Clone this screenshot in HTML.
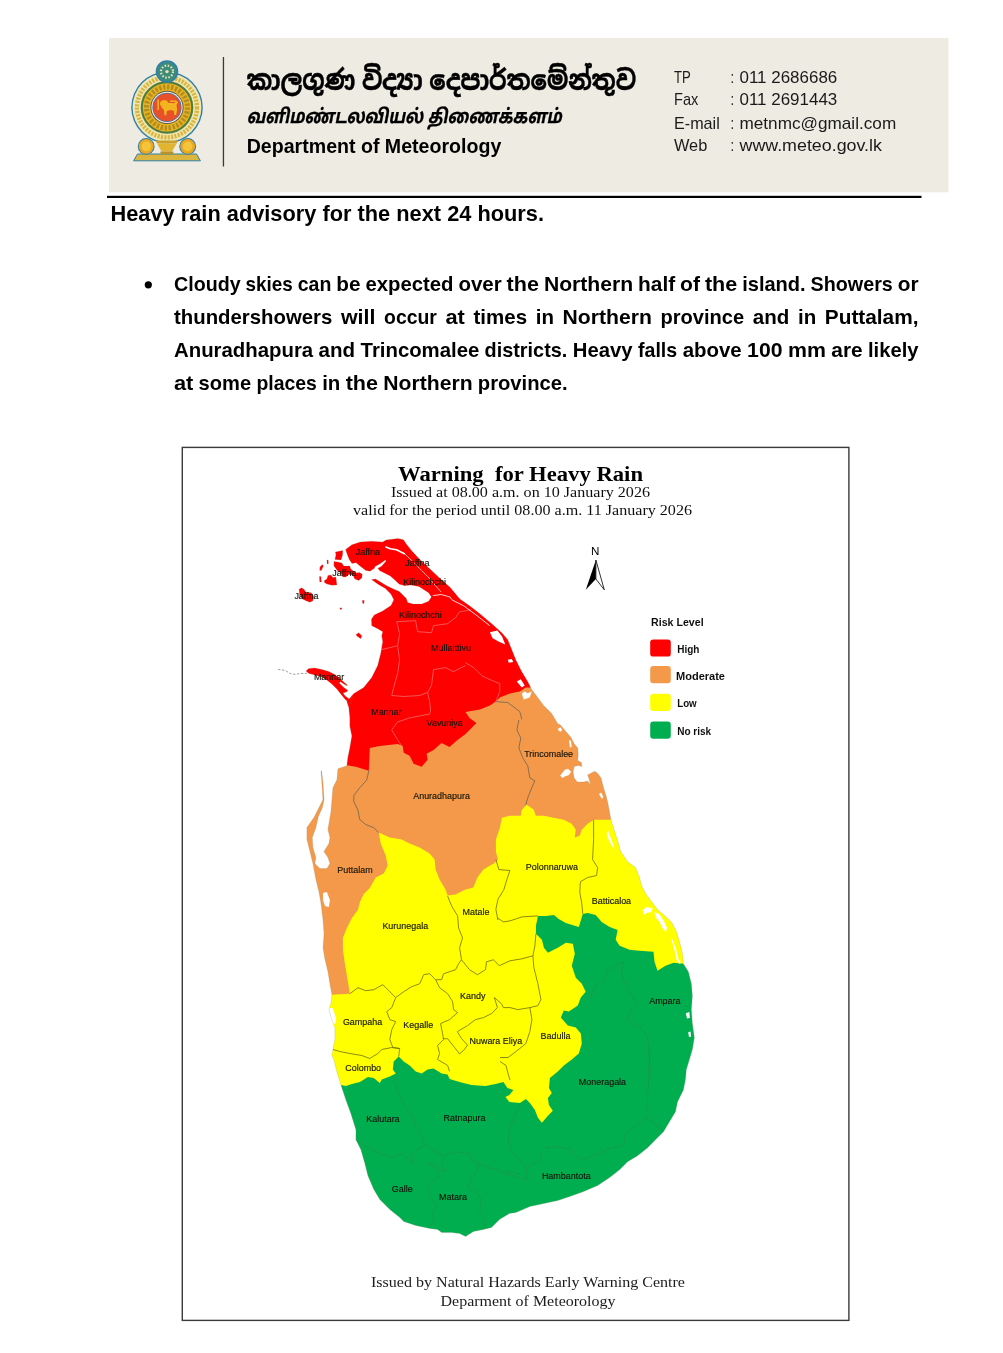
<!DOCTYPE html>
<html lang="en"><head><meta charset="utf-8"><title>Heavy rain advisory</title>
<style>html,body{margin:0;padding:0;background:#fff}svg{display:block}</style></head>
<body><svg width="1003" height="1353" viewBox="0 0 1003 1353">
<rect width="1003" height="1353" fill="#fff"/>
<rect x="109" y="38" width="839.5" height="154.3" fill="#edebe2"/>
<rect x="107" y="195.8" width="814.5" height="2.2" fill="#000"/>
<rect x="222.8" y="57" width="1.3" height="109.5" fill="#3a3a3a"/>
<text x="246.7" y="90.4" font-family="'Liberation Sans', 'Noto Sans Sinhala', 'Noto Serif Sinhala', sans-serif" font-size="27.5" font-weight="bold" fill="#000" textLength="389.5" lengthAdjust="spacingAndGlyphs" stroke="#000" stroke-width="0.45">කාලගුණ විද්‍යා දෙපාර්තමේන්තුව</text>
<text x="246.7" y="123.2" font-family="'Liberation Sans', 'Noto Sans Tamil', 'Noto Serif Tamil', sans-serif" font-size="19.5" font-weight="bold" fill="#000" textLength="315.0" lengthAdjust="spacingAndGlyphs" transform="translate(246.7,123.2) skewX(-11) translate(-246.7,-123.2)" stroke="#000" stroke-width="0.3">வளிமண்டலவியல் திணைக்களம்</text>
<text x="246.7" y="152.6" font-family="'Liberation Sans', sans-serif" font-size="19.5" font-weight="bold" fill="#000" textLength="254.6" lengthAdjust="spacingAndGlyphs" >Department of Meteorology</text>
<text x="674.0" y="82.5" font-family="'Liberation Sans', sans-serif" font-size="16.6" font-weight="normal" fill="#1a1a1a" textLength="16.8" lengthAdjust="spacingAndGlyphs" >TP</text>
<text x="730.6" y="82.5" font-family="'Liberation Sans', sans-serif" font-size="16.6" font-weight="normal" fill="#1a1a1a" textLength="3.6" lengthAdjust="spacingAndGlyphs" >:</text>
<text x="739.5" y="82.5" font-family="'Liberation Sans', sans-serif" font-size="16.6" font-weight="normal" fill="#1a1a1a" textLength="97.8" lengthAdjust="spacingAndGlyphs" >011 2686686</text>
<text x="674.0" y="105.4" font-family="'Liberation Sans', sans-serif" font-size="16.6" font-weight="normal" fill="#1a1a1a" textLength="24.3" lengthAdjust="spacingAndGlyphs" >Fax</text>
<text x="730.6" y="105.4" font-family="'Liberation Sans', sans-serif" font-size="16.6" font-weight="normal" fill="#1a1a1a" textLength="3.6" lengthAdjust="spacingAndGlyphs" >:</text>
<text x="739.5" y="105.4" font-family="'Liberation Sans', sans-serif" font-size="16.6" font-weight="normal" fill="#1a1a1a" textLength="97.8" lengthAdjust="spacingAndGlyphs" >011 2691443</text>
<text x="674.0" y="128.5" font-family="'Liberation Sans', sans-serif" font-size="16.6" font-weight="normal" fill="#1a1a1a" textLength="45.8" lengthAdjust="spacingAndGlyphs" >E-mail</text>
<text x="730.6" y="128.5" font-family="'Liberation Sans', sans-serif" font-size="16.6" font-weight="normal" fill="#1a1a1a" textLength="3.6" lengthAdjust="spacingAndGlyphs" >:</text>
<text x="739.5" y="128.5" font-family="'Liberation Sans', sans-serif" font-size="16.6" font-weight="normal" fill="#1a1a1a" textLength="156.7" lengthAdjust="spacingAndGlyphs" >metnmc@gmail.com</text>
<text x="674.0" y="151.3" font-family="'Liberation Sans', sans-serif" font-size="16.6" font-weight="normal" fill="#1a1a1a" textLength="33.3" lengthAdjust="spacingAndGlyphs" >Web</text>
<text x="730.6" y="151.3" font-family="'Liberation Sans', sans-serif" font-size="16.6" font-weight="normal" fill="#1a1a1a" textLength="3.6" lengthAdjust="spacingAndGlyphs" >:</text>
<text x="739.5" y="151.3" font-family="'Liberation Sans', sans-serif" font-size="16.6" font-weight="normal" fill="#1a1a1a" textLength="142.4" lengthAdjust="spacingAndGlyphs" >www.meteo.gov.lk</text>
<g>
<circle cx="167.0" cy="107.4" r="35.8" fill="#2f7fa8"/>
<circle cx="167.0" cy="107.4" r="34.4" fill="#f1e7b4"/>
<circle cx="167.0" cy="107.4" r="30" fill="none" stroke="#d8b640" stroke-width="4.4" stroke-dasharray="2.2 1.2"/>
<circle cx="167.0" cy="107.4" r="26.3" fill="#4e7d3f"/>
<circle cx="167.0" cy="107.4" r="24.2" fill="#e8b424"/>
<circle cx="167.0" cy="107.4" r="20.5" fill="none" stroke="#8a6d17" stroke-width="5" stroke-dasharray="2.4 1.6" stroke-opacity="0.55"/>
<circle cx="167.0" cy="107.4" r="16.6" fill="#5a5a48"/>
<circle cx="167.0" cy="107.4" r="15.6" fill="#f4f1e8"/>
<circle cx="167.0" cy="107.4" r="14.6" fill="#4a73a8"/>
<circle cx="167.0" cy="107.4" r="13.8" fill="#e8502a"/>
<path d="M160.5,101.5 l3,-1.6 l3.2,0.6 l1.6,2.2 l5.8,0.6 l2.8,-2.4 l1.2,1 l-1.6,3 l0.6,4.6 l-1,5.6 l-1.8,0 l-0.4,-4.4 l-3.4,-0.6 l-3.6,0.8 l-0.6,4.4 l-1.8,0 l-0.6,-5.4 l-2.6,-2.8 l-1.4,-3.2 z" fill="#f3b51f"/>
<rect x="157.4" y="99.5" width="1.5" height="10.5" fill="#f3b51f"/>
<path d="M170,100.4 h6.4 v1.5 h-6.4 z" fill="#f3b51f"/>
<circle cx="167.0" cy="71.6" r="11.3" fill="#2f7fa8"/>
<circle cx="167.0" cy="71.6" r="9.6" fill="#3d8c7b"/>
<circle cx="167.0" cy="71.6" r="6" fill="none" stroke="#e9e2b5" stroke-width="2.2" stroke-dasharray="1.5 1.64"/>
<circle cx="167.0" cy="71.6" r="1.7" fill="#e9e2b5"/>
<path d="M133.6,160.8 L137.5,154 L196.5,154 L200.4,160.8 Z" fill="#dcb53c" stroke="#2f7fa8" stroke-width="1"/>
<circle cx="146.2" cy="146.4" r="8.4" fill="#2f7fa8"/>
<circle cx="146.2" cy="146.4" r="7.4" fill="#e9a820"/>
<circle cx="146.2" cy="146.4" r="4.8" fill="#f4c53a"/>
<circle cx="187.7" cy="146.4" r="8.4" fill="#2f7fa8"/>
<circle cx="187.7" cy="146.4" r="7.4" fill="#e9a820"/>
<circle cx="187.7" cy="146.4" r="4.8" fill="#f4c53a"/>
<path d="M155.5,140.5 h22.6 l-1.6,3 h-19.4 z" fill="#c9a12c"/>
<path d="M157,143.5 h19.6 l-4.6,8 h-10.4 z" fill="#e2b530"/>
<rect x="160.4" y="151.5" width="13" height="2.6" fill="#b8932a"/>
</g>
<text x="110.5" y="221.0" font-family="'Liberation Sans', sans-serif" font-size="22.4" font-weight="bold" fill="#000" textLength="433.5" lengthAdjust="spacingAndGlyphs" >Heavy rain advisory for the next 24 hours.</text>
<circle cx="148.3" cy="284.8" r="3.6" fill="#000"/>
<text y="291.2" font-family="'Liberation Sans', sans-serif" font-size="21" font-weight="bold" fill="#000"><tspan x="174.0" textLength="66.6" lengthAdjust="spacingAndGlyphs">Cloudy</tspan> <tspan x="245.6" textLength="47.2" lengthAdjust="spacingAndGlyphs">skies</tspan> <tspan x="297.7" textLength="33.6" lengthAdjust="spacingAndGlyphs">can</tspan> <tspan x="336.3" textLength="24.2" lengthAdjust="spacingAndGlyphs">be</tspan> <tspan x="365.4" textLength="88.1" lengthAdjust="spacingAndGlyphs">expected</tspan> <tspan x="458.4" textLength="43.3" lengthAdjust="spacingAndGlyphs">over</tspan> <tspan x="506.6" textLength="32.3" lengthAdjust="spacingAndGlyphs">the</tspan> <tspan x="543.9" textLength="89.3" lengthAdjust="spacingAndGlyphs">Northern</tspan> <tspan x="638.1" textLength="37.1" lengthAdjust="spacingAndGlyphs">half</tspan> <tspan x="680.1" textLength="19.9" lengthAdjust="spacingAndGlyphs">of</tspan> <tspan x="704.9" textLength="32.3" lengthAdjust="spacingAndGlyphs">the</tspan> <tspan x="742.2" textLength="63.5" lengthAdjust="spacingAndGlyphs">island.</tspan> <tspan x="810.6" textLength="82.2" lengthAdjust="spacingAndGlyphs">Showers</tspan> <tspan x="897.7" textLength="20.8" lengthAdjust="spacingAndGlyphs">or</tspan></text>
<text y="324.4" font-family="'Liberation Sans', sans-serif" font-size="21" font-weight="bold" fill="#000"><tspan x="174.0" textLength="158.3" lengthAdjust="spacingAndGlyphs">thundershowers</tspan> <tspan x="340.9" textLength="34.5" lengthAdjust="spacingAndGlyphs">will</tspan> <tspan x="384.1" textLength="52.8" lengthAdjust="spacingAndGlyphs">occur</tspan> <tspan x="445.5" textLength="19.4" lengthAdjust="spacingAndGlyphs">at</tspan> <tspan x="473.5" textLength="53.6" lengthAdjust="spacingAndGlyphs">times</tspan> <tspan x="535.8" textLength="18.2" lengthAdjust="spacingAndGlyphs">in</tspan> <tspan x="562.6" textLength="89.3" lengthAdjust="spacingAndGlyphs">Northern</tspan> <tspan x="660.5" textLength="83.7" lengthAdjust="spacingAndGlyphs">province</tspan> <tspan x="752.8" textLength="36.5" lengthAdjust="spacingAndGlyphs">and</tspan> <tspan x="798.0" textLength="18.2" lengthAdjust="spacingAndGlyphs">in</tspan> <tspan x="824.8" textLength="93.7" lengthAdjust="spacingAndGlyphs">Puttalam,</tspan></text>
<text y="357.4" font-family="'Liberation Sans', sans-serif" font-size="21" font-weight="bold" fill="#000"><tspan x="174.0" textLength="139.2" lengthAdjust="spacingAndGlyphs">Anuradhapura</tspan> <tspan x="318.6" textLength="36.5" lengthAdjust="spacingAndGlyphs">and</tspan> <tspan x="360.6" textLength="118.7" lengthAdjust="spacingAndGlyphs">Trincomalee</tspan> <tspan x="484.6" textLength="82.7" lengthAdjust="spacingAndGlyphs">districts.</tspan> <tspan x="572.8" textLength="59.8" lengthAdjust="spacingAndGlyphs">Heavy</tspan> <tspan x="638.0" textLength="39.2" lengthAdjust="spacingAndGlyphs">falls</tspan> <tspan x="682.7" textLength="59.0" lengthAdjust="spacingAndGlyphs">above</tspan> <tspan x="747.1" textLength="35.4" lengthAdjust="spacingAndGlyphs">100</tspan> <tspan x="788.0" textLength="37.9" lengthAdjust="spacingAndGlyphs">mm</tspan> <tspan x="831.3" textLength="31.3" lengthAdjust="spacingAndGlyphs">are</tspan> <tspan x="868.0" textLength="50.5" lengthAdjust="spacingAndGlyphs">likely</tspan></text>
<text y="390.2" font-family="'Liberation Sans', sans-serif" font-size="21" font-weight="bold" fill="#000"><tspan x="174.0" textLength="19.4" lengthAdjust="spacingAndGlyphs">at</tspan> <tspan x="198.6" textLength="52.5" lengthAdjust="spacingAndGlyphs">some</tspan> <tspan x="256.4" textLength="60.5" lengthAdjust="spacingAndGlyphs">places</tspan> <tspan x="322.2" textLength="18.2" lengthAdjust="spacingAndGlyphs">in</tspan> <tspan x="345.7" textLength="32.3" lengthAdjust="spacingAndGlyphs">the</tspan> <tspan x="383.3" textLength="89.3" lengthAdjust="spacingAndGlyphs">Northern</tspan> <tspan x="477.8" textLength="89.9" lengthAdjust="spacingAndGlyphs">province.</tspan></text>
<defs><filter id="soft" x="-2%" y="-2%" width="104%" height="104%"><feGaussianBlur stdDeviation="0.35"/></filter></defs>
<g filter="url(#soft)">
<rect x="182.3" y="447.4" width="666.6" height="873" fill="#fff" stroke="#3a3a3a" stroke-width="1.4"/>
<defs><mask id="landmask" maskUnits="userSpaceOnUse" x="270" y="520" width="450" height="740"><path d="M345.6,549.5 L351.9,544.7 L360.3,541.9 L371.4,541.2 L382.6,541.9 L386.1,540.1 L397.9,538.4 L403.5,539.8 L406.3,544.0 L411.9,550.9 L420.3,560.0 L430.0,569.1 L439.8,578.2 L450.0,587.2 L459.9,598.9 L469.9,605.9 L479.9,613.8 L491.8,623.8 L501.8,632.8 L507.8,639.8 L511.8,649.7 L515.8,659.7 L521.8,671.7 L527.7,681.6 L531.7,689.6 L537.7,697.6 L543.7,705.6 L551.7,713.5 L557.6,723.5 L560.7,725.2 L565.9,731.4 L571.1,737.6 L574.2,743.8 L577.8,748.0 L578.3,754.2 L577.8,760.4 L581.4,762.4 L581.9,766.6 L578.3,765.5 L574.2,766.6 L573.1,771.8 L574.2,778.0 L577.3,782.1 L583.5,782.1 L587.6,781.1 L590.7,784.7 L588.7,778.0 L587.6,774.9 L591.8,772.8 L594.9,771.2 L598.0,773.8 L601.1,778.0 L603.1,786.3 L606.3,796.6 L607.8,802.8 L609.4,811.1 L610.9,819.4 L613.5,827.7 L616.1,835.9 L618.7,844.2 L620.7,851.5 L627.5,861.6 L635.5,867.6 L639.5,877.5 L641.5,885.5 L645.5,893.5 L651.5,901.5 L657.4,909.4 L664.4,915.4 L671.5,921.9 L676.5,931.8 L679.5,941.8 L682.5,953.8 L683.4,963.7 L688.4,971.7 L691.4,983.7 L692.4,995.7 L691.4,1009.6 L692.4,1023.6 L694.4,1037.5 L692.4,1049.5 L689.4,1059.5 L686.4,1069.4 L685.4,1079.9 L683.4,1089.9 L677.5,1101.9 L675.5,1111.8 L669.5,1121.8 L663.5,1131.8 L655.5,1139.8 L647.6,1147.7 L637.6,1155.7 L627.6,1161.7 L619.6,1169.7 L609.7,1177.6 L597.7,1185.6 L583.7,1191.6 L569.8,1196.6 L557.8,1200.6 L543.9,1203.6 L529.9,1206.6 L516.0,1212.5 L509.4,1213.5 L499.5,1219.5 L491.5,1227.5 L483.5,1229.5 L473.5,1231.5 L465.6,1236.5 L459.6,1233.5 L451.6,1232.5 L441.6,1232.5 L437.6,1229.5 L429.7,1228.5 L415.7,1225.5 L403.7,1221.5 L399.8,1217.5 L389.8,1209.6 L379.8,1199.6 L373.8,1189.6 L367.9,1175.7 L364.9,1163.7 L360.9,1149.7 L355.9,1139.8 L355.9,1129.8 L350.9,1113.8 L345.9,1099.9 L340.9,1084.9 L336.9,1072.0 L334.0,1060.0 L331.9,1055.5 L332.9,1049.5 L334.9,1039.5 L334.9,1027.6 L331.9,1019.6 L328.9,1009.6 L330.9,1003.6 L331.9,994.7 L329.9,983.7 L327.9,971.7 L325.0,959.8 L323.0,947.8 L324.0,933.8 L323.0,919.9 L321.0,903.9 L319.0,892.0 L316.0,880.0 L312.9,863.5 L309.9,851.5 L306.9,839.6 L306.9,827.6 L313.9,817.6 L319.9,805.7 L322.9,799.7 L321.9,783.7 L320.9,770.8 L321.7,771.0 L323.1,783.7 L324.1,799.7 L322.3,807.7 L318.3,816.7 L315.9,827.6 L312.3,837.6 L312.9,847.6 L315.9,857.5 L314.9,863.5 L319.9,868.5 L326.9,868.5 L329.9,863.5 L327.9,857.5 L323.9,851.5 L328.9,843.6 L329.9,837.6 L327.9,829.6 L328.9,823.6 L330.9,811.7 L331.9,799.7 L332.9,787.7 L336.9,779.8 L337.9,768.8 L346.8,765.8 L347.8,757.8 L349.8,747.9 L351.8,735.9 L349.8,725.9 L349.8,717.4 L348.8,707.5 L346.8,701.5 L353.8,693.5 L363.7,687.5 L371.7,677.6 L377.7,665.6 L380.7,653.6 L382.7,641.7 L381.7,635.7 L382.7,631.7 L377.7,628.7 L371.7,625.7 L371.4,619.3 L374.2,615.1 L382.6,611.0 L391.0,605.4 L393.8,599.8 L391.0,594.2 L385.4,588.6 L378.4,584.4 L371.4,579.6 L375.6,578.9 L379.8,581.6 L386.8,585.8 L392.4,588.6 L399.3,591.4 L406.3,598.4 L407.7,602.6 L413.3,604.0 L421.7,604.0 L428.6,601.2 L431.4,597.0 L428.6,592.8 L418.9,586.5 L410.5,585.1 L404.9,585.8 L399.3,584.2 L395.1,580.3 L390.3,576.1 L385.4,573.6 L379.8,570.8 L377.8,568.2 L381.2,566.6 L386.2,561.0 L385.4,559.9 L379.8,564.1 L375.0,566.6 L374.5,568.2 L370.0,571.2 L365.8,570.5 L360.3,566.3 L356.1,562.8 L351.9,563.5 L349.1,559.3 L347.0,553.7Z M335.4,551.9 L342.8,550.5 L342.6,554.9 L341.0,559.9 L334.9,559.4 L335.9,554.9Z M333.9,561.4 L337.9,561.9 L341.8,562.9 L343.8,565.9 L349.8,565.9 L350.8,568.9 L355.8,572.9 L359.8,572.4 L362.3,574.4 L361.8,577.9 L358.8,580.4 L354.8,578.9 L352.8,574.9 L348.8,574.4 L345.8,576.9 L342.8,576.9 L340.8,572.9 L336.9,569.9 L333.9,565.9Z M324.4,580.4 L326.9,578.9 L327.9,575.4 L330.9,574.9 L332.9,577.4 L335.9,576.9 L336.9,584.9 L331.9,585.3 L326.9,583.9 L324.4,582.4Z M319.4,576.4 L320.9,576.4 L321.4,581.9 L319.7,581.9Z M319.9,566.9 L322.4,564.4 L323.4,565.9 L321.4,570.4 L319.7,570.4Z M326.9,560.1 L328.2,559.9 L328.4,563.7 L327.1,563.9Z M299.0,589.3 L301.5,587.8 L304.0,589.3 L306.0,592.3 L311.4,592.8 L313.4,596.8 L312.9,600.8 L309.9,602.3 L306.0,600.8 L302.0,598.8 L299.5,593.8Z M362.3,600.3 L364.3,600.6 L364.0,603.8 L362.6,603.3Z M339.9,607.8 L341.8,608.0 L341.6,609.4 L340.0,609.3Z M355.8,634.7 L358.8,632.7 L361.8,635.7 L360.8,638.7 L357.8,636.7Z M306.4,670.4 L308.9,668.4 L314.9,667.9 L321.9,669.4 L328.8,671.4 L334.8,674.4 L339.8,678.4 L347.3,684.9 L346.8,685.7 L340.3,681.7 L339.3,682.9 L343.8,687.4 L347.8,690.2 L346.6,691.9 L343.0,692.9 L345.3,696.1 L349.3,699.1 L352.3,696.9 L350.8,703.8 L349.3,703.3 L344.8,698.9 L340.8,693.9 L336.8,688.9 L331.8,683.9 L326.8,679.9 L321.9,676.9 L314.9,674.9 L308.9,673.4 L306.4,671.4Z" fill="#fff"/></mask></defs>
<g mask="url(#landmask)">
<rect x="280" y="520" width="430" height="740" fill="#06ae50"/>
<path d="M683.4,963.7 L673.5,962.8 L665.5,965.7 L657.5,970.7 L654.5,961.8 L653.5,951.8 L639.6,950.8 L629.6,949.8 L619.6,945.8 L615.7,939.8 L617.6,929.9 L609.7,926.9 L601.7,921.9 L595.7,914.9 L587.7,912.9 L582.8,913.9 L578.8,926.9 L565.8,922.9 L558.8,918.9 L553.8,914.9 L545.9,915.9 L537.9,915.9 L535.9,925.9 L535.9,933.8 L541.9,939.8 L543.9,947.8 L547.9,952.8 L557.8,947.8 L565.8,942.8 L572.8,943.8 L574.8,953.8 L571.8,965.7 L575.8,977.7 L581.8,983.7 L585.7,991.7 L580.8,997.6 L577.8,1005.6 L568.8,1011.6 L563.8,1010.6 L560.8,1017.6 L567.8,1025.6 L575.8,1027.6 L580.8,1033.5 L581.8,1043.5 L578.8,1053.5 L571.8,1059.5 L563.8,1065.4 L557.8,1071.4 L549.9,1077.9 L548.9,1087.9 L551.8,1092.9 L547.9,1097.9 L548.9,1104.9 L552.8,1110.8 L547.9,1115.8 L541.9,1122.8 L537.9,1117.8 L534.9,1109.9 L529.9,1102.9 L525.9,1098.9 L519.9,1102.9 L509.4,1101.9 L505.4,1096.9 L509.4,1094.9 L513.4,1089.9 L507.4,1087.9 L503.4,1081.9 L495.5,1083.9 L485.5,1085.9 L471.5,1084.9 L459.6,1081.9 L449.6,1078.9 L447.6,1074.4 L441.6,1073.4 L433.6,1068.4 L427.6,1069.4 L421.7,1073.4 L415.7,1071.4 L409.7,1065.4 L403.7,1061.5 L398.7,1056.5 L393.7,1061.5 L392.8,1069.4 L395.7,1073.4 L389.8,1076.4 L381.8,1079.4 L379.8,1082.9 L373.8,1077.9 L367.9,1076.9 L359.9,1081.9 L351.9,1083.9 L345.9,1085.9 L340.9,1084.9 L280.0,1086.0 L280.0,700.0 L720.0,700.0 L720.0,964.0Z" fill="#ffff00" />
<path d="M331.9,994.7 L349.9,993.7 L348.9,987.7 L346.9,975.7 L344.9,963.7 L342.9,949.8 L342.9,937.8 L346.9,927.9 L351.9,917.9 L357.9,909.9 L359.9,901.9 L363.8,894.0 L369.8,888.0 L375.7,877.5 L383.7,873.5 L387.7,865.5 L385.7,855.5 L380.7,843.6 L378.7,832.6 L389.7,837.6 L401.7,839.6 L409.6,843.6 L419.6,847.6 L429.6,853.5 L434.6,859.5 L435.6,869.5 L439.6,879.5 L445.5,889.4 L447.5,895.4 L455.5,894.4 L465.5,889.4 L473.4,887.4 L477.4,877.5 L483.4,869.5 L490.0,865.5 L493.9,863.6 L497.9,859.6 L495.9,851.6 L495.9,839.6 L499.9,827.7 L501.9,817.7 L509.9,815.7 L520.8,815.7 L521.8,809.7 L526.8,804.7 L533.8,809.7 L535.8,815.7 L543.8,815.7 L553.7,817.7 L563.7,819.7 L571.7,823.7 L575.7,829.7 L574.7,837.6 L579.7,835.7 L581.7,829.7 L587.6,823.7 L593.6,819.7 L609.6,819.7 L720.0,820.0 L720.0,600.0 L280.0,600.0 L280.0,995.0Z" fill="#f4994a" />
<path d="M346.8,765.2 L355.8,766.8 L368.8,770.8 L369.8,747.9 L379.7,745.9 L397.7,743.9 L402.7,745.9 L403.7,752.8 L409.6,755.8 L413.6,763.8 L421.6,766.8 L427.6,759.8 L426.6,753.8 L433.6,749.9 L441.5,742.9 L449.5,746.9 L457.5,739.9 L465.5,733.9 L471.5,727.9 L476.4,722.9 L469.5,717.9 L465.5,712.0 L479.9,709.6 L489.9,705.6 L495.8,701.6 L499.8,697.6 L509.8,693.6 L519.8,691.6 L525.7,687.6 L720.0,688.0 L720.0,500.0 L270.0,500.0 L270.0,765.0Z" fill="#ff0000" />
<path d="M393.8,1079.9 L399.8,1095.9 L407.7,1109.9 L413.7,1119.8 L417.7,1129.8 L425.7,1143.7 L429.7,1147.7" fill="none" stroke="#0b9846" stroke-width="0.8" stroke-linejoin="round" />
<path d="M355.9,1139.8 L367.9,1147.7 L379.8,1153.7 L393.8,1157.7 L401.8,1153.7 L409.7,1159.7 L413.7,1163.7 L411.7,1153.7 L419.7,1147.7 L425.7,1144.7" fill="none" stroke="#0b9846" stroke-width="0.8" stroke-linejoin="round" />
<path d="M427.7,1163.7 L435.7,1167.7 L439.6,1175.7 L431.7,1181.6 L427.7,1189.6 L431.7,1199.6 L437.6,1205.6 L431.7,1211.5 L433.7,1219.5 L429.7,1227.5" fill="none" stroke="#0b9846" stroke-width="0.8" stroke-linejoin="round" />
<path d="M429.7,1147.7 L443.6,1155.7 L455.6,1151.7 L469.6,1153.7 L471.5,1159.7 L479.5,1163.7 L477.5,1171.7 L471.5,1179.6 L467.6,1187.6 L475.5,1191.6 L481.5,1199.6 L479.5,1211.5 L485.5,1219.5 L483.5,1229.5" fill="none" stroke="#0b9846" stroke-width="0.8" stroke-linejoin="round" />
<path d="M443.6,1155.7 L441.6,1163.7 L445.6,1171.7 L437.6,1167.7 L431.7,1162.7 L427.7,1163.7" fill="none" stroke="#0b9846" stroke-width="0.8" stroke-linejoin="round" />
<path d="M479.5,1163.7 L489.5,1167.7 L503.4,1171.7 L520.0,1173.7" fill="none" stroke="#0b9846" stroke-width="0.8" stroke-linejoin="round" />
<path d="M649.6,1048.0 L648.6,1079.9 L647.6,1099.9 L646.6,1117.8 L657.5,1125.8 L663.5,1130.8" fill="none" stroke="#0b9846" stroke-width="0.8" stroke-linejoin="round" />
<path d="M646.6,1117.8 L635.6,1125.8 L625.6,1133.8 L623.6,1145.7 L613.7,1147.7 L607.7,1148.7 L599.7,1153.7 L587.7,1157.7 L581.8,1160.7 L575.8,1155.7 L569.8,1148.7 L561.8,1147.7 L553.8,1146.7 L545.9,1147.7 L539.9,1153.7 L541.9,1159.7 L533.9,1163.7 L525.9,1168.7 L527.9,1179.6 L519.9,1177.6 L510.0,1174.7 L500.0,1173.7" fill="none" stroke="#0b9846" stroke-width="0.8" stroke-linejoin="round" />
<path d="M519.9,1102.9 L516.0,1113.8 L510.0,1127.8 L508.0,1139.8 L512.0,1151.7 L519.9,1159.7 L525.9,1168.7" fill="none" stroke="#0b9846" stroke-width="0.8" stroke-linejoin="round" />
<path d="M623.6,961.8 L617.6,963.7 L607.7,971.7 L603.7,979.7 L595.7,985.7 L589.7,999.6" fill="none" stroke="#0b9846" stroke-width="0.8" stroke-linejoin="round" />
<path d="M623.6,961.8 L621.6,973.7 L625.6,985.7 L631.6,995.7 L637.6,1003.6 L629.6,1011.6 L627.6,1019.6 L639.6,1027.6 L647.6,1035.5 L648.6,1049.5 L649.6,1063.4 L651.5,1080.0" fill="none" stroke="#0b9846" stroke-width="0.8" stroke-linejoin="round" />
<path d="M593.6,819.7 L593.6,839.6 L592.6,859.6 L597.6,867.6 L596.6,875.5 L587.6,877.5 L580.7,881.5 L580.2,884.0 L579.8,892.0 L581.8,903.9 L582.8,913.9" fill="none" stroke="#6e6e10" stroke-width="0.8" stroke-linejoin="round" />
<path d="M495.9,859.6 L498.9,869.6 L509.9,870.5 L506.9,879.5 L503.9,889.5 L497.9,899.5 L495.9,909.4 L497.9,920.0" fill="none" stroke="#6e6e10" stroke-width="0.8" stroke-linejoin="round" />
<path d="M447.6,896.0 L451.6,905.9 L457.6,915.9 L458.6,927.9 L462.5,937.8 L459.6,947.8 L461.5,959.8 L458.6,963.7 L455.6,969.7 L449.6,971.7 L443.6,973.7 L441.6,979.7 L435.6,979.7" fill="none" stroke="#6e6e10" stroke-width="0.8" stroke-linejoin="round" />
<path d="M349.9,993.7 L357.9,987.7 L365.8,990.7 L373.8,989.7 L382.8,984.7 L388.8,990.7 L395.7,997.6 L403.7,991.7 L411.7,986.7 L419.7,983.7 L423.7,974.7 L429.6,973.7 L435.6,979.7" fill="none" stroke="#6e6e10" stroke-width="0.8" stroke-linejoin="round" />
<path d="M395.7,997.6 L391.8,1007.6 L386.8,1011.6 L389.8,1019.6 L395.7,1021.6 L391.8,1029.6 L389.8,1039.5 L392.8,1047.5 L399.7,1048.5" fill="none" stroke="#6e6e10" stroke-width="0.8" stroke-linejoin="round" />
<path d="M332.9,1049.5 L339.9,1051.5 L349.9,1053.5 L361.8,1055.5 L369.8,1058.5 L377.8,1053.5 L381.8,1049.5 L391.8,1047.5 L399.7,1048.5 L398.7,1056.5" fill="none" stroke="#6e6e10" stroke-width="0.8" stroke-linejoin="round" />
<path d="M435.6,979.7 L439.6,987.7 L447.6,993.7 L452.6,1001.6 L453.6,1009.6 L457.6,1012.6 L449.6,1019.6 L440.6,1023.6 L442.6,1033.5 L443.6,1039.5 L437.6,1045.5 L439.6,1053.5 L437.6,1059.5 L447.6,1065.4 L449.6,1071.4" fill="none" stroke="#6e6e10" stroke-width="0.8" stroke-linejoin="round" />
<path d="M461.5,959.8 L469.5,969.7 L477.5,974.7 L485.5,969.7 L486.5,961.8 L493.4,959.8 L499.4,965.7 L510.0,960.8" fill="none" stroke="#6e6e10" stroke-width="0.8" stroke-linejoin="round" />
<path d="M457.6,1031.5 L467.5,1025.6 L475.5,1019.6 L483.5,1017.6 L491.5,1013.6 L497.4,1007.6 L494.4,997.6 L501.4,1003.6 L503.4,1007.6 L510.0,1007.6" fill="none" stroke="#6e6e10" stroke-width="0.8" stroke-linejoin="round" />
<path d="M457.2,1031.5 L461.5,1038.5 L467.5,1045.1 L464.5,1049.5 L459.6,1053.9 L454.6,1047.5 L447.6,1038.7 L442.8,1038.7" fill="none" stroke="#6e6e10" stroke-width="0.8" stroke-linejoin="round" />
<path d="M497.4,917.9 L503.4,921.9 L510.0,920.9" fill="none" stroke="#6e6e10" stroke-width="0.8" stroke-linejoin="round" />
<path d="M510.0,920.9 L521.9,916.9 L537.9,915.9" fill="none" stroke="#6e6e10" stroke-width="0.8" stroke-linejoin="round" />
<path d="M535.9,933.8 L534.9,945.8 L532.9,955.8 L533.9,967.7 L537.9,983.7 L540.9,999.6 L537.9,1005.6 L529.9,1007.6 L517.9,1009.6 L510.0,1007.6" fill="none" stroke="#6e6e10" stroke-width="0.8" stroke-linejoin="round" />
<path d="M532.9,955.8 L521.9,958.8 L510.0,960.8" fill="none" stroke="#6e6e10" stroke-width="0.8" stroke-linejoin="round" />
<path d="M529.9,1007.6 L531.9,1019.6 L529.9,1031.5 L525.9,1043.5 L516.0,1051.5 L508.0,1057.5 L500.0,1057.5" fill="none" stroke="#6e6e10" stroke-width="0.8" stroke-linejoin="round" />
<path d="M500.0,1061.5 L506.0,1065.4 L508.0,1073.4 L510.0,1080.0" fill="none" stroke="#6e6e10" stroke-width="0.8" stroke-linejoin="round" />
<path d="M495.8,701.6 L507.8,702.6 L519.8,711.5 L521.8,719.5" fill="none" stroke="#7a6a55" stroke-width="0.9" stroke-linejoin="round" />
<path d="M518.9,720.0 L516.9,730.0 L520.8,737.9 L518.9,747.9 L522.8,757.9 L527.8,765.9 L529.8,777.8 L534.8,780.8 L531.8,787.8 L527.8,797.8 L525.8,804.7" fill="none" stroke="#7a6a55" stroke-width="0.9" stroke-linejoin="round" />
<path d="M368.8,770.8 L366.8,779.8 L359.8,787.7 L353.8,795.7 L353.8,801.7 L357.8,809.7 L359.8,819.6 L365.8,824.6 L373.7,827.6 L378.7,832.6" fill="none" stroke="#7a6a55" stroke-width="0.9" stroke-linejoin="round" />
<path d="M396.7,621.7 L415.6,620.7 L417.6,631.7 L431.5,632.7 L433.5,625.7 L447.5,623.7 L455.5,617.7 L459.5,611.8 L471.4,609.8" fill="none" stroke="#f06a6a" stroke-width="0.8" stroke-linejoin="round" />
<path d="M396.7,621.7 L399.6,633.7 L397.6,645.7 L381.7,649.6" fill="none" stroke="#f06a6a" stroke-width="0.8" stroke-linejoin="round" />
<path d="M397.6,645.7 L399.6,659.6 L397.6,673.6 L393.7,687.5 L391.7,695.5 L403.6,696.5 L419.6,695.5 L427.6,692.5 L431.5,685.5 L433.5,669.6 L445.5,667.6 L453.5,671.6 L465.4,665.6" fill="none" stroke="#f06a6a" stroke-width="0.8" stroke-linejoin="round" />
<path d="M427.6,692.5 L429.6,701.5 L430.6,710.0 L429.6,714.0 L409.6,717.9 L397.7,721.9 L391.7,729.9 L397.7,739.9 L401.7,745.9" fill="none" stroke="#f06a6a" stroke-width="0.8" stroke-linejoin="round" />
<path d="M465.5,662.7 L473.9,667.7 L481.9,675.7 L489.9,679.6 L499.8,683.6 L499.8,691.6 L495.8,701.6" fill="none" stroke="#f06a6a" stroke-width="0.8" stroke-linejoin="round" />
</g>
<path d="M489.9,632.2 L497.4,630.6 L502.2,636.8 L505.2,644.5 L499.0,641.8 L492.6,638.2Z" fill="#fff" />
<path d="M507.8,659.7 L511.8,659.1 L513.2,662.1 L508.8,662.7Z" fill="#fff" />
<path d="M516.8,681.6 L520.8,679.2 L524.7,685.6 L521.8,687.6Z" fill="#fff" />
<path d="M521.8,693.6 L524.7,691.6 L527.7,693.2 L531.7,691.6 L529.7,697.6 L523.7,699.6Z" fill="#fff" />
<path d="M557.6,729.3 L560.2,727.2 L562.3,729.8 L560.2,731.9Z" fill="#fff" />
<path d="M569.0,740.2 L571.1,740.7 L571.6,746.9 L570.0,747.4Z" fill="#fff" />
<path d="M560.2,775.4 L564.8,769.7 L568.0,768.7 L571.1,771.8 L569.0,774.9 L564.8,776.4 L562.3,778.0Z" fill="#fff" />
<path d="M599.0,794.0 L601.1,792.5 L603.1,796.6 L602.1,799.2Z" fill="#fff" />
<path d="M606.8,832.3 L608.3,830.8 L609.9,835.9 L612.5,842.2 L614.0,847.3 L612.5,847.3 L609.4,841.1 L607.3,837.0Z" fill="#fff" />
<path d="M642.6,909.9 L646.6,906.9 L652.5,908.3 L651.5,911.9 L646.6,912.9 L644.0,914.9Z" fill="#fff" />
<path d="M654.5,911.9 L659.5,914.3 L663.9,920.9 L667.1,927.9 L665.5,932.2 L662.5,927.9 L659.5,921.9 L655.5,916.9Z" fill="#fff" />
<path d="M671.5,939.8 L672.7,939.6 L676.3,949.8 L678.3,958.8 L680.7,963.0 L679.5,963.7 L676.3,959.4 L674.3,949.8Z" fill="#fff" />
<path d="M685.8,1013.2 L689.4,1012.0 L689.8,1018.0 L687.0,1018.4Z" fill="#fff" />
<path d="M688.2,1032.3 L690.6,1031.5 L691.0,1036.7 L689.0,1037.1Z" fill="#fff" />
<path d="M323.0,893.0 L326.9,892.0 L329.9,899.9 L328.9,906.9 L325.0,905.9 L323.0,899.9Z" fill="#fff" />
<path d="M328.9,1007.6 L332.9,1008.6 L335.9,1017.6 L335.5,1023.6 L332.3,1024.0 L329.9,1017.6Z" fill="#fff" />
<path d="M345.6,549.5 L351.9,544.7 L360.3,541.9 L371.4,541.2 L382.6,541.9 L386.1,540.1 L397.9,538.4 L403.5,539.8 L406.3,544.0 L411.9,550.9 L420.3,560.0 L430.0,569.1 L439.8,578.2 L450.0,587.2 L459.9,598.9 L469.9,605.9 L479.9,613.8 L491.8,623.8 L501.8,632.8 L507.8,639.8 L511.8,649.7 L515.8,659.7 L521.8,671.7 L527.7,681.6 L531.7,689.6 L537.7,697.6 L543.7,705.6 L551.7,713.5 L557.6,723.5 L560.7,725.2 L565.9,731.4 L571.1,737.6 L574.2,743.8 L577.8,748.0 L578.3,754.2 L577.8,760.4 L581.4,762.4 L581.9,766.6 L578.3,765.5 L574.2,766.6 L573.1,771.8 L574.2,778.0 L577.3,782.1 L583.5,782.1 L587.6,781.1 L590.7,784.7 L588.7,778.0 L587.6,774.9 L591.8,772.8 L594.9,771.2 L598.0,773.8 L601.1,778.0 L603.1,786.3 L606.3,796.6 L607.8,802.8 L609.4,811.1 L610.9,819.4 L613.5,827.7 L616.1,835.9 L618.7,844.2 L620.7,851.5 L627.5,861.6 L635.5,867.6 L639.5,877.5 L641.5,885.5 L645.5,893.5 L651.5,901.5 L657.4,909.4 L664.4,915.4 L671.5,921.9 L676.5,931.8 L679.5,941.8 L682.5,953.8 L683.4,963.7 L688.4,971.7 L691.4,983.7 L692.4,995.7 L691.4,1009.6 L692.4,1023.6 L694.4,1037.5 L692.4,1049.5 L689.4,1059.5 L686.4,1069.4 L685.4,1079.9 L683.4,1089.9 L677.5,1101.9 L675.5,1111.8 L669.5,1121.8 L663.5,1131.8 L655.5,1139.8 L647.6,1147.7 L637.6,1155.7 L627.6,1161.7 L619.6,1169.7 L609.7,1177.6 L597.7,1185.6 L583.7,1191.6 L569.8,1196.6 L557.8,1200.6 L543.9,1203.6 L529.9,1206.6 L516.0,1212.5 L509.4,1213.5 L499.5,1219.5 L491.5,1227.5 L483.5,1229.5 L473.5,1231.5 L465.6,1236.5 L459.6,1233.5 L451.6,1232.5 L441.6,1232.5 L437.6,1229.5 L429.7,1228.5 L415.7,1225.5 L403.7,1221.5 L399.8,1217.5 L389.8,1209.6 L379.8,1199.6 L373.8,1189.6 L367.9,1175.7 L364.9,1163.7 L360.9,1149.7 L355.9,1139.8 L355.9,1129.8 L350.9,1113.8 L345.9,1099.9 L340.9,1084.9 L336.9,1072.0 L334.0,1060.0 L331.9,1055.5 L332.9,1049.5 L334.9,1039.5 L334.9,1027.6 L331.9,1019.6 L328.9,1009.6 L330.9,1003.6 L331.9,994.7 L329.9,983.7 L327.9,971.7 L325.0,959.8 L323.0,947.8 L324.0,933.8 L323.0,919.9 L321.0,903.9 L319.0,892.0 L316.0,880.0 L312.9,863.5 L309.9,851.5 L306.9,839.6 L306.9,827.6 L313.9,817.6 L319.9,805.7 L322.9,799.7 L321.9,783.7 L320.9,770.8 L321.7,771.0 L323.1,783.7 L324.1,799.7 L322.3,807.7 L318.3,816.7 L315.9,827.6 L312.3,837.6 L312.9,847.6 L315.9,857.5 L314.9,863.5 L319.9,868.5 L326.9,868.5 L329.9,863.5 L327.9,857.5 L323.9,851.5 L328.9,843.6 L329.9,837.6 L327.9,829.6 L328.9,823.6 L330.9,811.7 L331.9,799.7 L332.9,787.7 L336.9,779.8 L337.9,768.8 L346.8,765.8 L347.8,757.8 L349.8,747.9 L351.8,735.9 L349.8,725.9 L349.8,717.4 L348.8,707.5 L346.8,701.5 L353.8,693.5 L363.7,687.5 L371.7,677.6 L377.7,665.6 L380.7,653.6 L382.7,641.7 L381.7,635.7 L382.7,631.7 L377.7,628.7 L371.7,625.7 L371.4,619.3 L374.2,615.1 L382.6,611.0 L391.0,605.4 L393.8,599.8 L391.0,594.2 L385.4,588.6 L378.4,584.4 L371.4,579.6 L375.6,578.9 L379.8,581.6 L386.8,585.8 L392.4,588.6 L399.3,591.4 L406.3,598.4 L407.7,602.6 L413.3,604.0 L421.7,604.0 L428.6,601.2 L431.4,597.0 L428.6,592.8 L418.9,586.5 L410.5,585.1 L404.9,585.8 L399.3,584.2 L395.1,580.3 L390.3,576.1 L385.4,573.6 L379.8,570.8 L377.8,568.2 L381.2,566.6 L386.2,561.0 L385.4,559.9 L379.8,564.1 L375.0,566.6 L374.5,568.2 L370.0,571.2 L365.8,570.5 L360.3,566.3 L356.1,562.8 L351.9,563.5 L349.1,559.3 L347.0,553.7Z M335.4,551.9 L342.8,550.5 L342.6,554.9 L341.0,559.9 L334.9,559.4 L335.9,554.9Z M333.9,561.4 L337.9,561.9 L341.8,562.9 L343.8,565.9 L349.8,565.9 L350.8,568.9 L355.8,572.9 L359.8,572.4 L362.3,574.4 L361.8,577.9 L358.8,580.4 L354.8,578.9 L352.8,574.9 L348.8,574.4 L345.8,576.9 L342.8,576.9 L340.8,572.9 L336.9,569.9 L333.9,565.9Z M324.4,580.4 L326.9,578.9 L327.9,575.4 L330.9,574.9 L332.9,577.4 L335.9,576.9 L336.9,584.9 L331.9,585.3 L326.9,583.9 L324.4,582.4Z M319.4,576.4 L320.9,576.4 L321.4,581.9 L319.7,581.9Z M319.9,566.9 L322.4,564.4 L323.4,565.9 L321.4,570.4 L319.7,570.4Z M326.9,560.1 L328.2,559.9 L328.4,563.7 L327.1,563.9Z M299.0,589.3 L301.5,587.8 L304.0,589.3 L306.0,592.3 L311.4,592.8 L313.4,596.8 L312.9,600.8 L309.9,602.3 L306.0,600.8 L302.0,598.8 L299.5,593.8Z M362.3,600.3 L364.3,600.6 L364.0,603.8 L362.6,603.3Z M339.9,607.8 L341.8,608.0 L341.6,609.4 L340.0,609.3Z M355.8,634.7 L358.8,632.7 L361.8,635.7 L360.8,638.7 L357.8,636.7Z M306.4,670.4 L308.9,668.4 L314.9,667.9 L321.9,669.4 L328.8,671.4 L334.8,674.4 L339.8,678.4 L347.3,684.9 L346.8,685.7 L340.3,681.7 L339.3,682.9 L343.8,687.4 L347.8,690.2 L346.6,691.9 L343.0,692.9 L345.3,696.1 L349.3,699.1 L352.3,696.9 L350.8,703.8 L349.3,703.3 L344.8,698.9 L340.8,693.9 L336.8,688.9 L331.8,683.9 L326.8,679.9 L321.9,676.9 L314.9,674.9 L308.9,673.4 L306.4,671.4Z" fill="none" stroke="#808070" stroke-opacity="0.35" stroke-width="0.6"/>
<path d="M385.4,546.8 L390.3,548.8 L396.5,549.8 L404.9,554.0" fill="none" stroke="#fff" stroke-width="1.6" stroke-linejoin="round" />
<path d="M404.9,554.0 L413.3,562.1 L421.7,570.5 L430.0,578.9 L435.6,585.8 L441.2,592.1" fill="none" stroke="#ffb0b0" stroke-width="1.0" stroke-linejoin="round" />
<path d="M432.8,595.6 L441.2,594.5 L450.0,597.0 L452.0,599.9 L463.9,605.9 L475.9,614.8 L489.9,625.8" fill="none" stroke="#ffd0d0" stroke-width="1.0" stroke-linejoin="round" />
<path d="M278.0,669.4 L285.0,670.4 L291.0,673.9 L295.9,674.4 L299.9,673.4 L306.9,673.4" fill="none" stroke="#888" stroke-width="0.8" stroke-linejoin="round" stroke-dasharray="2.5 1.5"/>
<text x="355.8" y="554.7" font-family="'Liberation Sans', sans-serif" font-size="8.95" font-weight="normal" fill="#15150c" textLength="24.2" lengthAdjust="spacingAndGlyphs" stroke="#15150c" stroke-width="0.15">Jaffna</text>
<text x="405.2" y="565.5" font-family="'Liberation Sans', sans-serif" font-size="8.95" font-weight="normal" fill="#15150c" textLength="24.2" lengthAdjust="spacingAndGlyphs" stroke="#15150c" stroke-width="0.15">Jaffna</text>
<text x="332.2" y="576.1" font-family="'Liberation Sans', sans-serif" font-size="8.95" font-weight="normal" fill="#15150c" textLength="24.2" lengthAdjust="spacingAndGlyphs" stroke="#15150c" stroke-width="0.15">Jaffna</text>
<text x="294.4" y="599.0" font-family="'Liberation Sans', sans-serif" font-size="8.95" font-weight="normal" fill="#15150c" textLength="24.2" lengthAdjust="spacingAndGlyphs" stroke="#15150c" stroke-width="0.15">Jaffna</text>
<text x="403.2" y="585.4" font-family="'Liberation Sans', sans-serif" font-size="8.95" font-weight="normal" fill="#15150c" textLength="42.8" lengthAdjust="spacingAndGlyphs" stroke="#15150c" stroke-width="0.15">Kilinochchi</text>
<text x="399.0" y="617.9" font-family="'Liberation Sans', sans-serif" font-size="8.95" font-weight="normal" fill="#15150c" textLength="42.8" lengthAdjust="spacingAndGlyphs" stroke="#15150c" stroke-width="0.15">Kilinochchi</text>
<text x="431.1" y="650.8" font-family="'Liberation Sans', sans-serif" font-size="8.95" font-weight="normal" fill="#15150c" textLength="39.8" lengthAdjust="spacingAndGlyphs" stroke="#15150c" stroke-width="0.15">Mullaittivu</text>
<text x="313.9" y="680.2" font-family="'Liberation Sans', sans-serif" font-size="8.95" font-weight="normal" fill="#15150c" textLength="30.3" lengthAdjust="spacingAndGlyphs" stroke="#15150c" stroke-width="0.15">Mannar</text>
<text x="371.2" y="714.8" font-family="'Liberation Sans', sans-serif" font-size="8.95" font-weight="normal" fill="#15150c" textLength="30.3" lengthAdjust="spacingAndGlyphs" stroke="#15150c" stroke-width="0.15">Mannar</text>
<text x="426.6" y="726.2" font-family="'Liberation Sans', sans-serif" font-size="8.95" font-weight="normal" fill="#15150c" textLength="36.2" lengthAdjust="spacingAndGlyphs" stroke="#15150c" stroke-width="0.15">Vavuniya</text>
<text x="524.2" y="757.1" font-family="'Liberation Sans', sans-serif" font-size="8.95" font-weight="normal" fill="#15150c" textLength="48.9" lengthAdjust="spacingAndGlyphs" stroke="#15150c" stroke-width="0.15">Trincomalee</text>
<text x="413.2" y="798.9" font-family="'Liberation Sans', sans-serif" font-size="8.95" font-weight="normal" fill="#15150c" textLength="56.7" lengthAdjust="spacingAndGlyphs" stroke="#15150c" stroke-width="0.15">Anuradhapura</text>
<text x="337.3" y="873.3" font-family="'Liberation Sans', sans-serif" font-size="8.95" font-weight="normal" fill="#15150c" textLength="35.3" lengthAdjust="spacingAndGlyphs" stroke="#15150c" stroke-width="0.15">Puttalam</text>
<text x="525.8" y="870.2" font-family="'Liberation Sans', sans-serif" font-size="8.95" font-weight="normal" fill="#15150c" textLength="52.2" lengthAdjust="spacingAndGlyphs" stroke="#15150c" stroke-width="0.15">Polonnaruwa</text>
<text x="591.8" y="904.2" font-family="'Liberation Sans', sans-serif" font-size="8.95" font-weight="normal" fill="#15150c" textLength="39.3" lengthAdjust="spacingAndGlyphs" stroke="#15150c" stroke-width="0.15">Batticaloa</text>
<text x="462.5" y="915.1" font-family="'Liberation Sans', sans-serif" font-size="8.95" font-weight="normal" fill="#15150c" textLength="26.9" lengthAdjust="spacingAndGlyphs" stroke="#15150c" stroke-width="0.15">Matale</text>
<text x="382.4" y="928.7" font-family="'Liberation Sans', sans-serif" font-size="8.95" font-weight="normal" fill="#15150c" textLength="45.8" lengthAdjust="spacingAndGlyphs" stroke="#15150c" stroke-width="0.15">Kurunegala</text>
<text x="460.0" y="998.5" font-family="'Liberation Sans', sans-serif" font-size="8.95" font-weight="normal" fill="#15150c" textLength="25.4" lengthAdjust="spacingAndGlyphs" stroke="#15150c" stroke-width="0.15">Kandy</text>
<text x="649.2" y="1004.2" font-family="'Liberation Sans', sans-serif" font-size="8.95" font-weight="normal" fill="#15150c" textLength="31.3" lengthAdjust="spacingAndGlyphs" stroke="#15150c" stroke-width="0.15">Ampara</text>
<text x="342.9" y="1025.2" font-family="'Liberation Sans', sans-serif" font-size="8.95" font-weight="normal" fill="#15150c" textLength="39.3" lengthAdjust="spacingAndGlyphs" stroke="#15150c" stroke-width="0.15">Gampaha</text>
<text x="403.3" y="1028.4" font-family="'Liberation Sans', sans-serif" font-size="8.95" font-weight="normal" fill="#15150c" textLength="29.9" lengthAdjust="spacingAndGlyphs" stroke="#15150c" stroke-width="0.15">Kegalle</text>
<text x="540.5" y="1038.7" font-family="'Liberation Sans', sans-serif" font-size="8.95" font-weight="normal" fill="#15150c" textLength="29.9" lengthAdjust="spacingAndGlyphs" stroke="#15150c" stroke-width="0.15">Badulla</text>
<text x="469.5" y="1043.7" font-family="'Liberation Sans', sans-serif" font-size="8.95" font-weight="normal" fill="#15150c" textLength="52.7" lengthAdjust="spacingAndGlyphs" stroke="#15150c" stroke-width="0.15">Nuwara Eliya</text>
<text x="345.3" y="1070.6" font-family="'Liberation Sans', sans-serif" font-size="8.95" font-weight="normal" fill="#15150c" textLength="35.8" lengthAdjust="spacingAndGlyphs" stroke="#15150c" stroke-width="0.15">Colombo</text>
<text x="578.8" y="1084.7" font-family="'Liberation Sans', sans-serif" font-size="8.95" font-weight="normal" fill="#15150c" textLength="47.3" lengthAdjust="spacingAndGlyphs" stroke="#15150c" stroke-width="0.15">Moneragala</text>
<text x="366.3" y="1122.4" font-family="'Liberation Sans', sans-serif" font-size="8.95" font-weight="normal" fill="#15150c" textLength="33.3" lengthAdjust="spacingAndGlyphs" stroke="#15150c" stroke-width="0.15">Kalutara</text>
<text x="443.6" y="1121.0" font-family="'Liberation Sans', sans-serif" font-size="8.95" font-weight="normal" fill="#15150c" textLength="41.8" lengthAdjust="spacingAndGlyphs" stroke="#15150c" stroke-width="0.15">Ratnapura</text>
<text x="541.9" y="1178.9" font-family="'Liberation Sans', sans-serif" font-size="8.95" font-weight="normal" fill="#15150c" textLength="48.8" lengthAdjust="spacingAndGlyphs" stroke="#15150c" stroke-width="0.15">Hambantota</text>
<text x="391.8" y="1192.2" font-family="'Liberation Sans', sans-serif" font-size="8.95" font-weight="normal" fill="#15150c" textLength="20.9" lengthAdjust="spacingAndGlyphs" stroke="#15150c" stroke-width="0.15">Galle</text>
<text x="439.0" y="1200.4" font-family="'Liberation Sans', sans-serif" font-size="8.95" font-weight="normal" fill="#15150c" textLength="27.9" lengthAdjust="spacingAndGlyphs" stroke="#15150c" stroke-width="0.15">Matara</text>
<text x="398.0" y="481.0" font-family="'Liberation Serif', serif" font-size="20.5" font-weight="bold" fill="#000" textLength="245.0" lengthAdjust="spacingAndGlyphs" style="white-space:pre">Warning  for Heavy Rain</text>
<text x="391.0" y="497.3" font-family="'Liberation Serif', serif" font-size="15" font-weight="normal" fill="#111" textLength="259.0" lengthAdjust="spacingAndGlyphs" >Issued at 08.00 a.m. on 10 January 2026</text>
<text x="353.0" y="515.3" font-family="'Liberation Serif', serif" font-size="15" font-weight="normal" fill="#111" textLength="339.0" lengthAdjust="spacingAndGlyphs" >valid for the period until 08.00 a.m. 11 January 2026</text>
<text x="371.0" y="1287.0" font-family="'Liberation Serif', serif" font-size="15.4" font-weight="normal" fill="#1c1c1c" textLength="314.0" lengthAdjust="spacingAndGlyphs" >Issued by Natural Hazards Early Warning Centre</text>
<text x="440.5" y="1305.5" font-family="'Liberation Serif', serif" font-size="15.4" font-weight="normal" fill="#1c1c1c" textLength="175.0" lengthAdjust="spacingAndGlyphs" >Deparment of Meteorology</text>
<text x="591.0" y="555.3" font-family="'Liberation Sans', sans-serif" font-size="10.5" font-weight="normal" fill="#000" textLength="8.4" lengthAdjust="spacingAndGlyphs" >N</text>
<path d="M595.9,560 L585.8,589.8 L595.9,579 Z" fill="#000"/>
<path d="M595.9,560 L604.3,589.8 L595.9,579 Z" fill="#fff" stroke="#000" stroke-width="0.8" stroke-linejoin="miter"/>
<text x="651.0" y="626.0" font-family="'Liberation Sans', sans-serif" font-size="11.6" font-weight="bold" fill="#111" textLength="52.6" lengthAdjust="spacingAndGlyphs" >Risk Level</text>
<rect x="650.2" y="639.4" width="20.6" height="17.2" rx="3.2" fill="#ff0000"/>
<text x="677.2" y="653.0" font-family="'Liberation Sans', sans-serif" font-size="10.6" font-weight="bold" fill="#111" textLength="22.2" lengthAdjust="spacingAndGlyphs" >High</text>
<rect x="650.2" y="666.0" width="20.6" height="17.2" rx="3.2" fill="#f4994a"/>
<text x="676.0" y="679.6" font-family="'Liberation Sans', sans-serif" font-size="10.6" font-weight="bold" fill="#111" textLength="49.0" lengthAdjust="spacingAndGlyphs" >Moderate</text>
<rect x="650.2" y="693.8" width="20.6" height="17.2" rx="3.2" fill="#ffff00"/>
<text x="677.2" y="707.4" font-family="'Liberation Sans', sans-serif" font-size="10.6" font-weight="bold" fill="#111" textLength="19.5" lengthAdjust="spacingAndGlyphs" >Low</text>
<rect x="650.2" y="721.5" width="20.6" height="17.2" rx="3.2" fill="#06ae50"/>
<text x="677.2" y="735.1" font-family="'Liberation Sans', sans-serif" font-size="10.6" font-weight="bold" fill="#111" textLength="34.0" lengthAdjust="spacingAndGlyphs" >No risk</text>
</g>
</svg></body></html>
